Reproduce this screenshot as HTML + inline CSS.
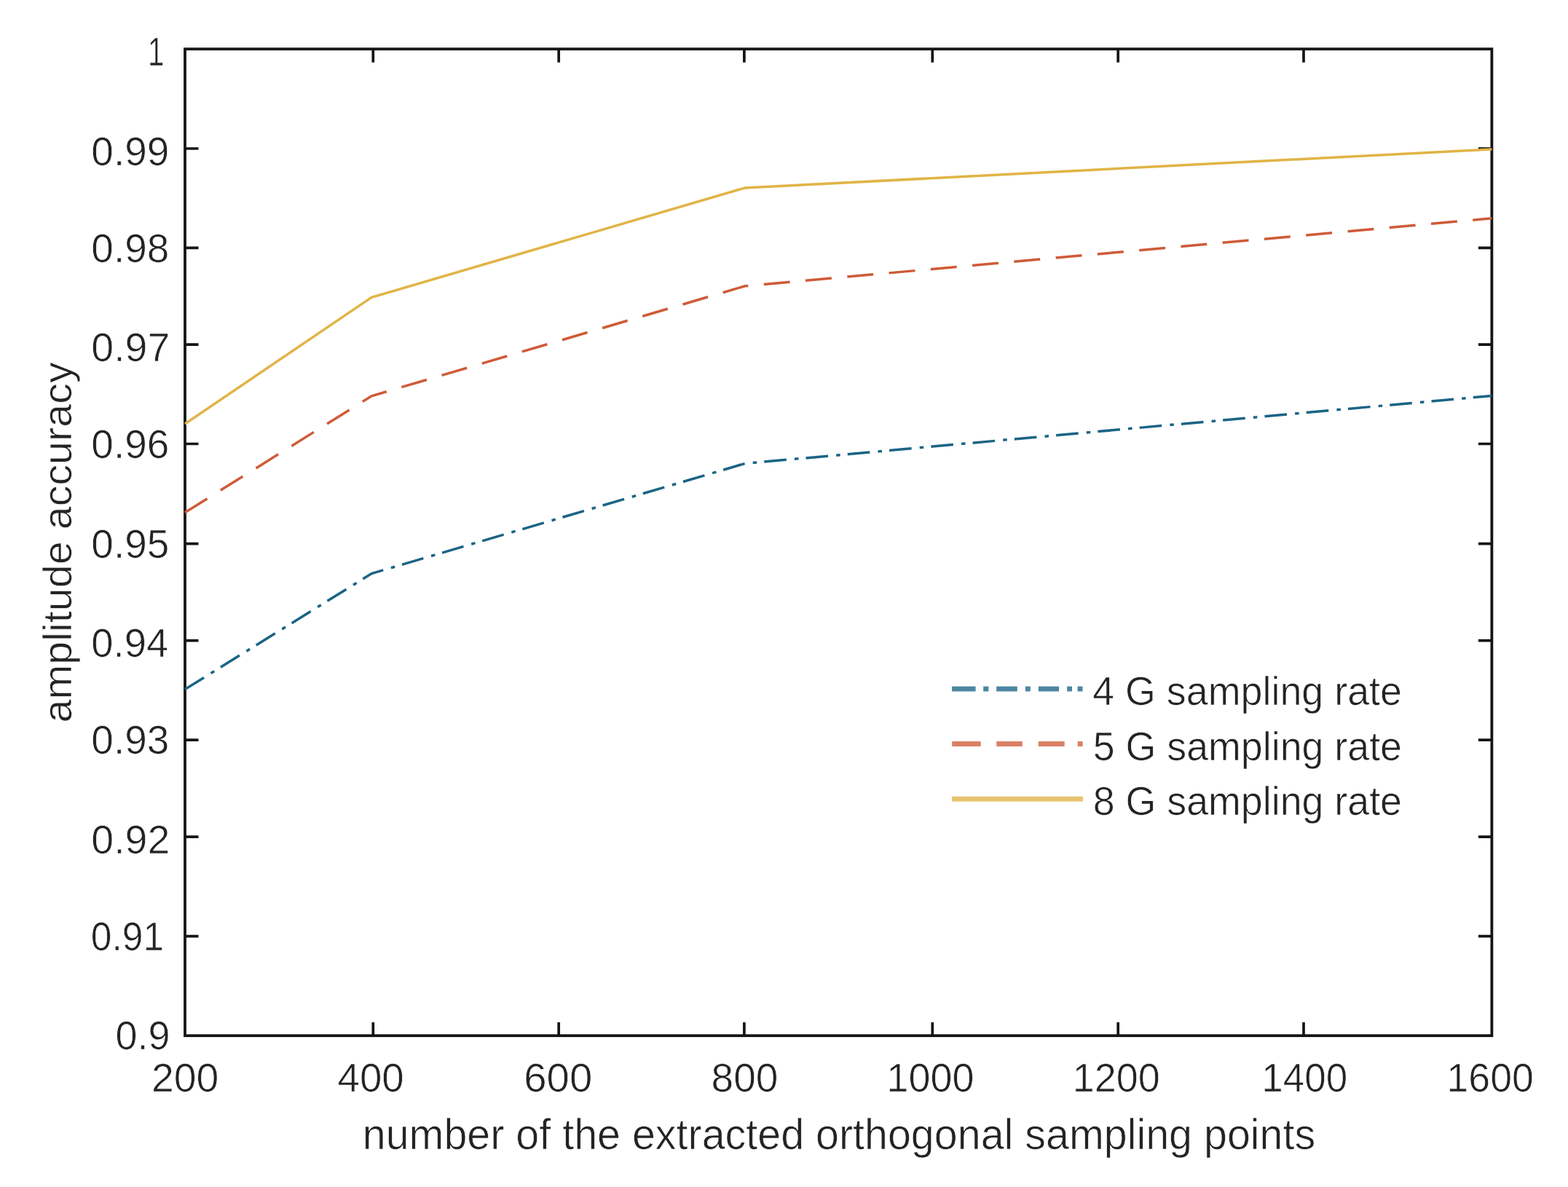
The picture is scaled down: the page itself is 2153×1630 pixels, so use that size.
<!DOCTYPE html>
<html><head><meta charset="utf-8"><title>amplitude accuracy</title><style>
html,body{margin:0;padding:0;background:#fff;overflow:hidden;}
svg{display:block;}
text{font-family:"Liberation Sans",Arial,Helvetica,sans-serif;fill:#232323;stroke:#fff;stroke-width:0.7px;paint-order:fill;}
</style></head><body>
<svg width="2153" height="1630" viewBox="0 0 2153 1630">
<rect x="0" y="0" width="2153" height="1630" fill="#fff"/>
<path d="M512.30,1422.20V1403.70M512.30,67.30V85.80M767.20,1422.20V1403.70M767.20,67.30V85.80M1021.90,1422.20V1403.70M1021.90,67.30V85.80M1280.30,1422.20V1403.70M1280.30,67.30V85.80M1535.20,1422.20V1403.70M1535.20,67.30V85.80M1790.00,1422.20V1403.70M1790.00,67.30V85.80M254.00,1285.70H272.50M2048.40,1285.70H2029.90M254.00,1149.10H272.50M2048.40,1149.10H2029.90M254.00,1016.20H272.50M2048.40,1016.20H2029.90M254.00,879.70H272.50M2048.40,879.70H2029.90M254.00,746.60H272.50M2048.40,746.60H2029.90M254.00,609.50H272.50M2048.40,609.50H2029.90M254.00,473.20H272.50M2048.40,473.20H2029.90M254.00,340.30H272.50M2048.40,340.30H2029.90M254.00,204.00H272.50M2048.40,204.00H2029.90" stroke="#141414" stroke-width="3.7" fill="none"/>
<rect x="254.0" y="67.3" width="1794.40" height="1354.90" fill="none" stroke="#141414" stroke-width="3.8"/>
<polyline points="254.00,582.00 510.30,408.30 1022.90,258.00 2048.40,205.00" fill="none" stroke="#e0b446" stroke-width="3.5" stroke-linejoin="miter"/>
<polyline points="254.00,703.80 510.30,543.80 1022.90,392.80 2048.40,299.80" fill="none" stroke="#cf5b38" stroke-width="3.5" stroke-dasharray="36 21.5"/>
<polyline points="254.00,946.60 510.30,787.60 1022.90,636.50 2048.40,543.50" fill="none" stroke="#1a6485" stroke-width="3.5" stroke-dasharray="30.7 11.15 5.5 10.15"/>
<text x="207.91" y="1499.00" font-size="55.5" textLength="92.40" lengthAdjust="spacingAndGlyphs">200</text>
<text x="463.51" y="1499.00" font-size="55.5" textLength="91.27" lengthAdjust="spacingAndGlyphs">400</text>
<text x="719.25" y="1499.00" font-size="55.5" textLength="94.08" lengthAdjust="spacingAndGlyphs">600</text>
<text x="976.51" y="1499.00" font-size="55.5" textLength="91.99" lengthAdjust="spacingAndGlyphs">800</text>
<text x="1217.41" y="1499.00" font-size="55.5" textLength="120.09" lengthAdjust="spacingAndGlyphs">1000</text>
<text x="1472.81" y="1499.00" font-size="55.5" textLength="120.09" lengthAdjust="spacingAndGlyphs">1200</text>
<text x="1732.28" y="1499.00" font-size="55.5" textLength="117.98" lengthAdjust="spacingAndGlyphs">1400</text>
<text x="1986.53" y="1499.00" font-size="55.5" textLength="119.35" lengthAdjust="spacingAndGlyphs">1600</text>
<text x="158.55" y="1441.20" font-size="55.5" textLength="75.04" lengthAdjust="spacingAndGlyphs">0.9</text>
<text x="124.84" y="1304.70" font-size="55.5" textLength="100.34" lengthAdjust="spacingAndGlyphs">0.91</text>
<text x="125.30" y="1171.90" font-size="55.5" textLength="108.03" lengthAdjust="spacingAndGlyphs">0.92</text>
<text x="125.32" y="1035.30" font-size="55.5" textLength="106.99" lengthAdjust="spacingAndGlyphs">0.93</text>
<text x="125.34" y="901.90" font-size="55.5" textLength="105.97" lengthAdjust="spacingAndGlyphs">0.94</text>
<text x="125.32" y="765.60" font-size="55.5" textLength="106.99" lengthAdjust="spacingAndGlyphs">0.95</text>
<text x="125.32" y="629.00" font-size="55.5" textLength="106.99" lengthAdjust="spacingAndGlyphs">0.96</text>
<text x="125.30" y="496.00" font-size="55.5" textLength="108.03" lengthAdjust="spacingAndGlyphs">0.97</text>
<text x="125.32" y="359.60" font-size="55.5" textLength="106.99" lengthAdjust="spacingAndGlyphs">0.98</text>
<text x="125.32" y="226.50" font-size="55.5" textLength="106.99" lengthAdjust="spacingAndGlyphs">0.99</text>
<text x="202.92" y="89.90" font-size="55.5" textLength="22.26" lengthAdjust="spacingAndGlyphs">1</text>
<text x="497.76" y="1578.20" font-size="58.5" textLength="1308.44" lengthAdjust="spacingAndGlyphs">number of the extracted orthogonal sampling points</text>
<text transform="translate(97.8,990.4) rotate(-90)" x="-2.07" y="0" font-size="55.5" textLength="495.13" lengthAdjust="spacingAndGlyphs">amplitude accuracy</text>
<g fill="#1a6485" fill-opacity="0.78"><rect x="1307" y="942.55" width="32.6" height="6.9"/><rect x="1350.2" y="942.55" width="7.2" height="6.9"/><rect x="1368.2" y="942.55" width="28.6" height="6.9"/><rect x="1407.9" y="942.55" width="6.9" height="6.9"/><rect x="1425.9" y="942.55" width="28.1" height="6.9"/><rect x="1465.2" y="942.55" width="6.8" height="6.9"/><rect x="1479.6" y="942.55" width="6.9" height="6.9"/></g>
<g fill="#cf5b38" fill-opacity="0.78"><rect x="1307.2" y="1018.05" width="39.5" height="6.9"/><rect x="1368.3" y="1018.05" width="35.5" height="6.9"/><rect x="1425.9" y="1018.05" width="35.8" height="6.9"/><rect x="1479.8" y="1018.05" width="6.9" height="6.9"/></g>
<g fill="#e0b446" fill-opacity="0.78"><rect x="1307.0" y="1093.75" width="180.0" height="6.9"/></g>
<text x="1500.13" y="967.90" font-size="55.5" textLength="424.86" lengthAdjust="spacingAndGlyphs">4 G sampling rate</text>
<text x="1500.76" y="1043.50" font-size="55.5" textLength="424.22" lengthAdjust="spacingAndGlyphs">5 G sampling rate</text>
<text x="1500.76" y="1119.10" font-size="55.5" textLength="424.22" lengthAdjust="spacingAndGlyphs">8 G sampling rate</text>
</svg>
</body></html>
